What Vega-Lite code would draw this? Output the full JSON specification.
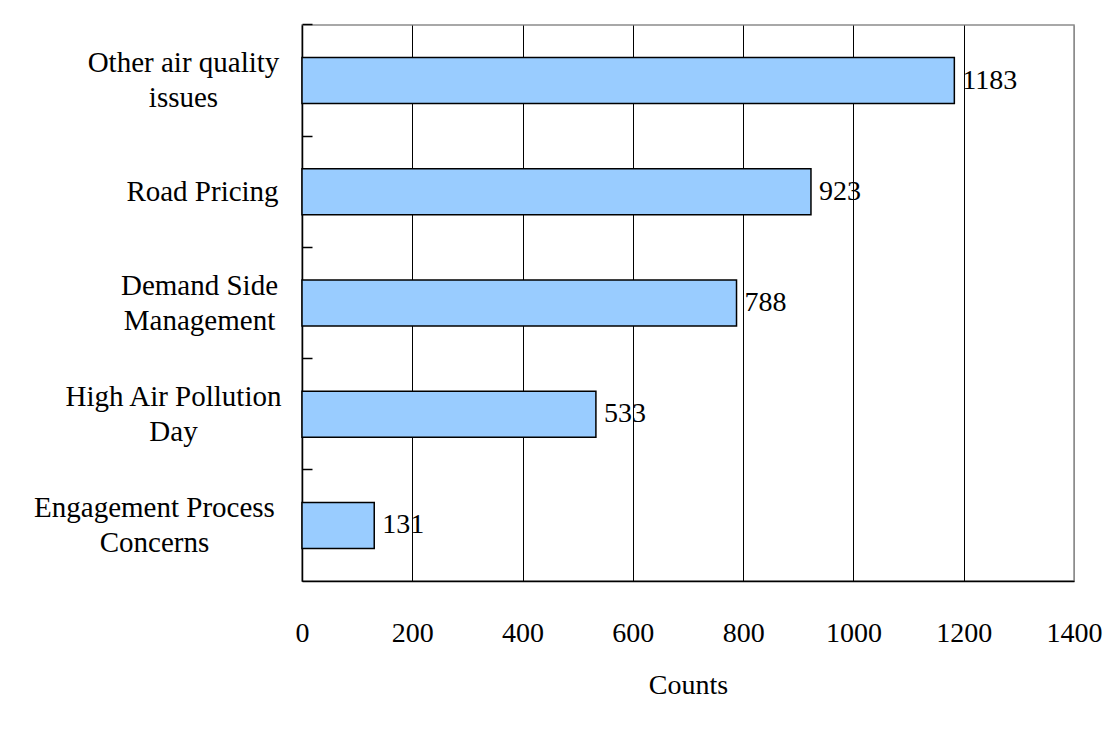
{
  "$schema": "https://vega.github.io/schema/vega-lite/v6.json",
  "autosize": {"type": "none"},
  "padding": {"left": 302, "top": 25, "right": 42, "bottom": 152},
  "width": 772,
  "height": 556,
  "background": "white",
  "config": {
    "font": "Liberation Serif",
    "view": {"stroke": "#8c8c8c", "strokeWidth": 1.5}
  },
  "data": {
    "values": [
      {"issue": "Other air quality issues", "count": 1183},
      {"issue": "Road Pricing", "count": 923},
      {"issue": "Demand Side Management", "count": 788},
      {"issue": "High Air Pollution Day", "count": 533},
      {"issue": "Engagement Process Concerns", "count": 131}
    ]
  },
  "encoding": {
    "y": {
      "field": "issue",
      "type": "nominal",
      "sort": null,
      "scale": {"paddingInner": 0.586, "paddingOuter": 0.293},
      "axis": {
        "title": null,
        "domainColor": "black",
        "domainWidth": 1.5,
        "tickColor": "black",
        "tickWidth": 1.5,
        "tickSize": -10,
        "bandPosition": -0.708,
        "labelFont": "Liberation Serif",
        "labelFontSize": 29,
        "labelColor": "black",
        "labelAlign": "center",
        "labelBaseline": "middle",
        "labelLineHeight": 35,
        "labelLimit": 400,
        "labelExpr": "datum.value === 'Other air quality issues' ? ['Other air quality', 'issues'] : datum.value === 'Demand Side Management' ? ['Demand Side', 'Management'] : datum.value === 'High Air Pollution Day' ? ['High Air Pollution', 'Day'] : datum.value === 'Engagement Process Concerns' ? ['Engagement Process', 'Concerns'] : datum.label",
        "labelOffset": {
          "condition": {"test": "datum.value === 'Road Pricing'", "value": 0},
          "value": -17.5
        },
        "labelPadding": {
          "condition": [
            {"test": "datum.value === 'Other air quality issues'", "value": 129},
            {"test": "datum.value === 'Road Pricing'", "value": 110},
            {"test": "datum.value === 'Demand Side Management'", "value": 113},
            {"test": "datum.value === 'High Air Pollution Day'", "value": 139}
          ],
          "value": 158
        }
      }
    }
  },
  "layer": [
    {
      "mark": {"type": "bar", "fill": "#99CCFF", "stroke": "black", "strokeWidth": 1.5},
      "encoding": {
        "x": {
          "field": "count",
          "type": "quantitative",
          "scale": {"domain": [0, 1400], "nice": false},
          "axis": {
            "title": "Counts",
            "titleFont": "Liberation Serif",
            "titleFontSize": 28,
            "titleFontWeight": "normal",
            "titleColor": "black",
            "titlePadding": 24,
            "values": [0, 200, 400, 600, 800, 1000, 1200, 1400],
            "format": "d",
            "ticks": false,
            "domainColor": "black",
            "domainWidth": 1.5,
            "grid": true,
            "gridColor": {"condition": {"test": "datum.value === 1400", "value": "#8c8c8c"}, "value": "black"},
            "gridWidth": 1,
            "gridOpacity": 1,
            "labelFont": "Liberation Serif",
            "labelFontSize": 28,
            "labelColor": "black",
            "labelPadding": 38,
            "labelFlush": false
          }
        }
      }
    },
    {
      "mark": {"type": "text", "align": "left", "baseline": "middle", "dx": 8, "font": "Liberation Serif", "fontSize": 28, "color": "black"},
      "encoding": {
        "x": {"field": "count", "type": "quantitative"},
        "text": {"field": "count", "type": "quantitative", "format": "d"}
      }
    }
  ]
}
